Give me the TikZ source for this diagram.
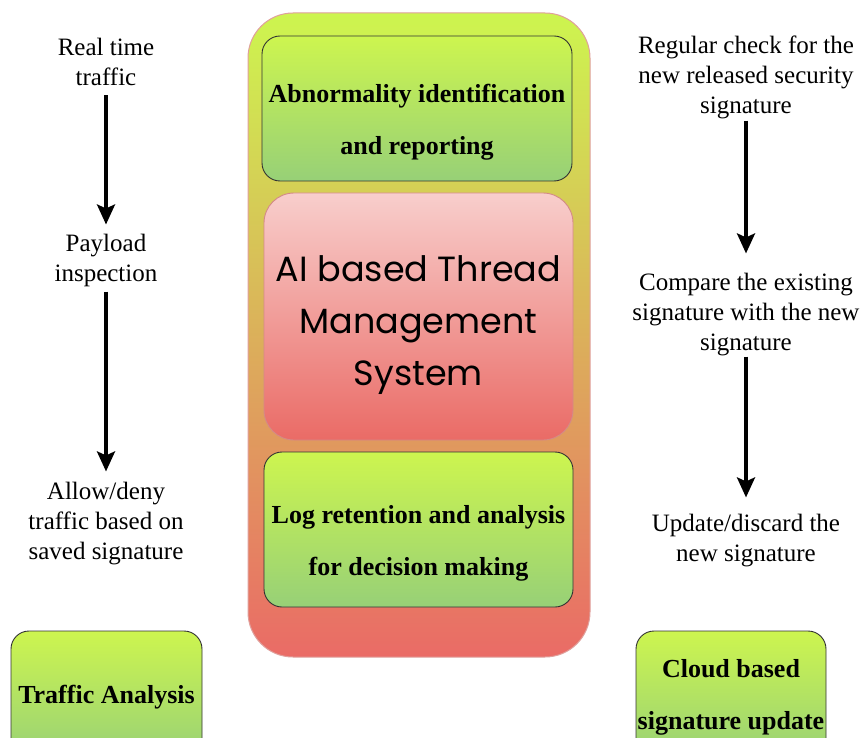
\documentclass[tikz,border=0pt]{standalone}
\usepackage{fontspec}
\setmainfont{Liberation Serif}
\newfontfamily\comicfont{Poppins}
\usetikzlibrary{arrows.meta}
\definecolor{lgreen}{HTML}{CDF54F}
\definecolor{dgreen}{HTML}{97D077}
\definecolor{lpink}{HTML}{F8CECC}
\definecolor{dred}{HTML}{EA6B66}
\definecolor{redline}{HTML}{D48A87}
\definecolor{outline}{HTML}{E0A09C}
\begin{document}
\begin{tikzpicture}[x=1pt,y=-1pt,
  outerbox/.style={draw=outline, line width=1pt, rounded corners=45pt, top color=lgreen, bottom color=dred, shading angle=0},
  greenbox/.style={draw=black!80, line width=0.9pt, rounded corners=18pt, top color=lgreen, bottom color=dgreen},
  boldtxt/.style={align=center, font=\fontsize{26}{52}\selectfont\bfseries, inner sep=0pt},
  redbox/.style={draw=redline, line width=0.9pt, rounded corners=30pt, top color=lpink, bottom color=dred},
  comictxt/.style={align=center, font=\comicfont\fontsize{35}{52}\selectfont, inner sep=0pt},
  plain/.style={align=center, font=\fontsize{25}{30}\selectfont, inner sep=0pt},
  arr/.style={line width=3.5pt, -{Stealth[length=20pt,width=18pt,inset=4pt]}}
]
\useasboundingbox (0,0) rectangle (862,738);
\fill[white] (0,0) rectangle (862,738);

% centre column
\node[outerbox, minimum width=342pt, minimum height=644pt] (sys) at (419,335) {};
\node[greenbox, minimum width=310pt, minimum height=145pt] (abn) at (417,108.5) {};
\node[boldtxt] (abnt) at (417,122.5) {Abnormality identification\\and reporting};
\node[redbox, minimum width=309pt, minimum height=247pt] (ai) at (418.5,316.5) {};
\node[comictxt] (ait) at (418.5,325.5) {AI based Thread\\Management\\System};
\node[greenbox, minimum width=309pt, minimum height=155pt] (log) at (418.5,529.5) {};
\node[boldtxt] (logt) at (418.5,543.5) {Log retention and analysis\\for decision making};

% left column
\node[plain] (rt) at (106,61.5) {Real time\\traffic};
\node[plain] (pl) at (106,260) {Payload\\inspection};
\node[plain] (ad) at (106,524) {Allow/deny\\traffic based on\\saved signature};
\draw[arr, shorten <=10pt, shorten >=9pt] (rt) -- (pl);
\draw[arr, shorten <=5pt, shorten >=11pt] (pl) -- (ad);
\node[greenbox, minimum width=191pt, minimum height=130pt] (ta) at (106.5,696) {};
\node[boldtxt] (tat) at (106.5,697) {Traffic Analysis};

% right column
\node[plain] (rc) at (746,77) {Regular check for the\\new released security\\signature};
\node[plain] (cp) at (746,315) {Compare the existing\\signature with the new\\signature};
\node[plain] (up) at (746,541) {Update/discard the\\new signature};
\draw[arr, shorten <=2pt, shorten >=20pt] (rc) -- (cp);
\draw[arr, shorten <=0pt, shorten >=17pt] (cp) -- (up);
\node[greenbox, minimum width=190pt, minimum height=130pt] (cb) at (731,696) {};
\node[boldtxt] (cbt) at (731,697) {Cloud based\\signature update};
\end{tikzpicture}
\end{document}
